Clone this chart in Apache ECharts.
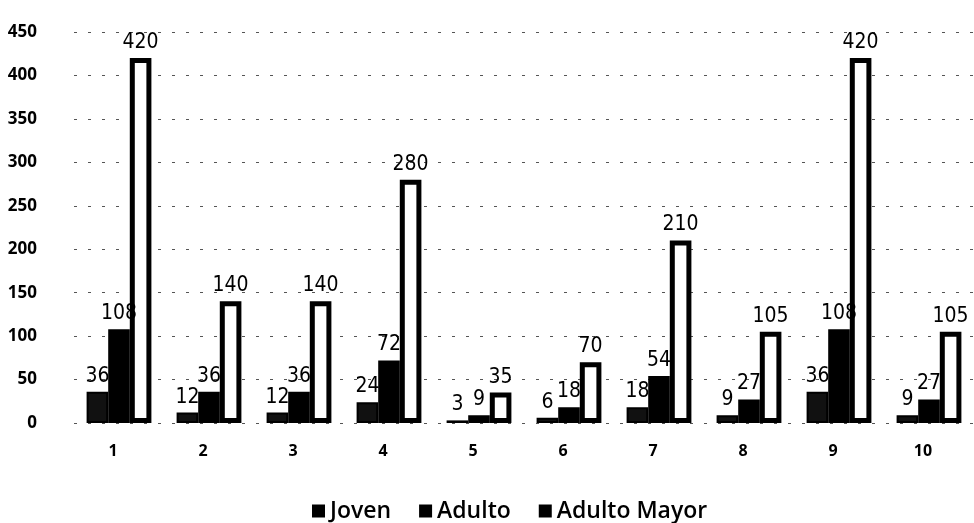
<!DOCTYPE html>
<html>
<head>
<meta charset="utf-8">
<script src="https://cdn.jsdelivr.net/npm/echarts@6/dist/echarts.min.js"></script>
<style>
  html, body { margin: 0; padding: 0; background: #fff; }
  #chart { width: 974px; height: 523px; }
</style>
</head>
<body>
<div id="chart"></div>
<script>
// Categories and the three age-group series
const categories = ['1', '2', '3', '4', '5', '6', '7', '8', '9', '10'];
const joven = [36, 12, 12, 24, 3, 6, 18, 9, 36, 9];
const adulto = [108, 36, 36, 72, 9, 18, 54, 27, 108, 27];
const adultoMayor = [420, 140, 140, 280, 35, 70, 210, 105, 420, 105];
const seriesNames = ['Joven', 'Adulto', 'Adulto Mayor'];

const chart = echarts.init(document.getElementById('chart'));

const labelStyle = {
  show: true,
  position: 'top',
  distance: 5,
  color: '#000',
  fontFamily: 'DejaVu Sans Condensed, Liberation Sans, sans-serif',
  fontSize: 21
};

chart.setOption({
  animation: false,
  backgroundColor: '#fff',
  grid: { left: 74, right: 0, top: 32, bottom: 100 },
  legend: {
    top: 494,
    left: 307,
    itemWidth: 13,
    itemHeight: 13,
    itemGap: 28,
    icon: 'rect',
    textStyle: {
      color: '#000', fontSize: 23, fontWeight: 600, lineHeight: 24,
      fontFamily: 'Open Sans, sans-serif'
    },
    data: seriesNames.map(n => ({ name: n, itemStyle: { color: '#000', borderWidth: 0 } }))
  },
  xAxis: {
    type: 'category',
    data: categories,
    axisLine: { show: false },
    axisTick: { show: false },
    axisLabel: {
      color: '#000',
      fontSize: 16,
      fontWeight: 'bold',
      fontFamily: 'Open Sans, sans-serif',
      margin: 20,
      padding: [0, 12, 0, 0]
    }
  },
  yAxis: {
    type: 'value',
    min: 0,
    max: 450,
    interval: 50,
    axisLine: { show: false },
    axisTick: { show: false },
    axisLabel: {
      color: '#000',
      fontSize: 17,
      fontWeight: 'bold',
      fontFamily: 'Open Sans, sans-serif',
      margin: 37
    },
    splitLine: {
      show: true,
      lineStyle: { color: '#555', width: 1, type: [3, 11] }
    }
  },
  series: [
    {
      name: seriesNames[0],
      type: 'bar',
      data: joven,
      barGap: '0%',
      barCategoryGap: '28%',
      itemStyle: { color: '#111', borderColor: '#000', borderWidth: 2 },
      label: labelStyle
    },
    {
      name: seriesNames[1],
      type: 'bar',
      data: adulto,
      itemStyle: { color: '#000', borderColor: '#000', borderWidth: 2 },
      label: labelStyle
    },
    {
      name: seriesNames[2],
      type: 'bar',
      data: adultoMayor,
      itemStyle: { color: '#fff', borderColor: '#000', borderWidth: 5 },
      label: labelStyle
    }
  ]
});
</script>
</body>
</html>
